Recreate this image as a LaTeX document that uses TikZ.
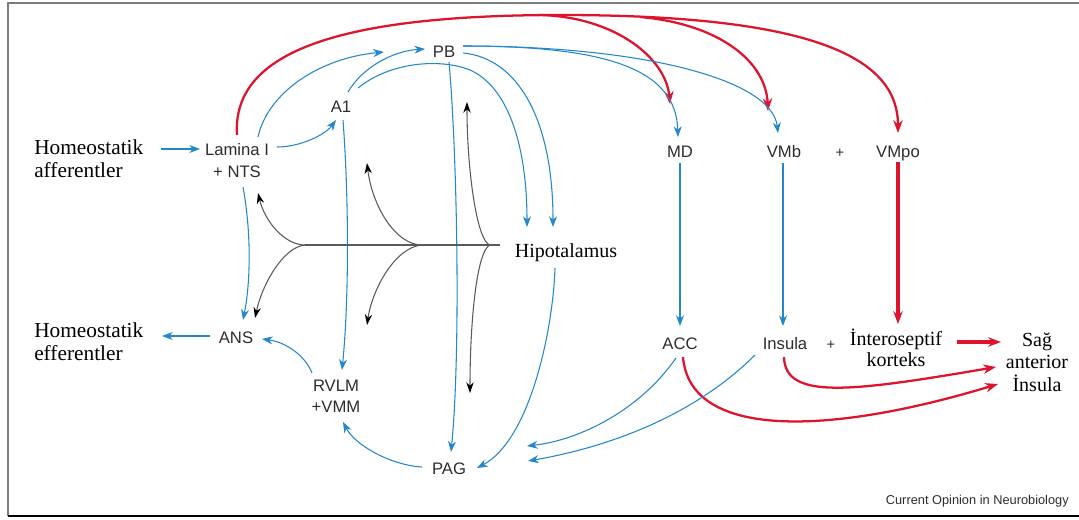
\documentclass[tikz,border=0pt]{standalone}
\usepackage{fontspec}
\setmainfont{Liberation Serif}
\setsansfont{Liberation Sans}
\usetikzlibrary{arrows.meta}
\definecolor{cblue}{RGB}{35,135,205}
\definecolor{cred}{RGB}{222,20,45}
\definecolor{cgray}{RGB}{90,90,90}
\definecolor{ctext}{RGB}{45,45,45}
\definecolor{cframe}{RGB}{125,125,125}
\begin{document}
\begin{tikzpicture}[x=0.75pt,y=-0.75pt,
  lbl/.style={font=\sffamily\fontsize{12.5}{16}\selectfont, text=ctext, inner sep=0pt, align=center},
  ser/.style={font=\fontsize{15}{17}\selectfont, inner sep=0pt, align=center},
  serbig/.style={font=\fontsize{16}{17.3}\selectfont, inner sep=0pt, align=left, anchor=west},
  bl/.style={cblue, line width=0.8pt, -{Stealth[length=8pt,width=6pt,inset=2.5pt]}},
  rd/.style={cred, line width=1.7pt, -{Stealth[length=9.5pt,width=7pt,inset=3pt]}},
  bk/.style={cgray, line width=0.8pt, -{Stealth[length=8pt,width=5.5pt,inset=2.5pt,color=black]}},
  bkline/.style={cgray, line width=1pt},
]
\useasboundingbox (0,0) rectangle (1079,519);
% frame
\draw[cframe, line width=1.5pt] (1079,3) -- (7.5,3) -- (7.5,516);
\draw[black, line width=1.5pt] (7.5,516) -- (1079,516);

% nodes
\node[serbig] (haff) at (34,159) {Homeostatik\\afferentler};
\node[serbig] (heff) at (34,342) {Homeostatik\\efferentler};
\node[lbl, font=\sffamily\fontsize{12.5}{16.5}\selectfont] (lam) at (237,161) {Lamina I\\+ NTS};
\node[lbl, anchor=base] (a1) at (341,112) {A1};
\node[lbl, anchor=base] (pb) at (444,57) {PB};
\node[lbl, anchor=base] (md) at (680,157) {MD};
\node[lbl, anchor=base] (vmb) at (784,157) {VMb};
\node[lbl, anchor=base, font=\sffamily\fontsize{11}{13}\selectfont] (plusA) at (840,157) {+};
\node[lbl, anchor=base] (vmpo) at (898,157) {VMpo};
\node[ser, anchor=base] (hip) at (566,257) {Hipotalamus};
\node[lbl, anchor=base] (ans) at (236,343) {ANS};
\node[lbl, font=\sffamily\fontsize{12.5}{15.75}\selectfont] (rvlm) at (336,396.5) {RVLM\\+VMM};
\node[lbl, anchor=base] (pag) at (449,474) {PAG};
\node[lbl, anchor=base] (acc) at (680,349) {ACC};
\node[lbl, anchor=base] (ins) at (785,349) {Insula};
\node[lbl, anchor=base, font=\sffamily\fontsize{11}{13}\selectfont] (plusB) at (831,349) {+};
\node[ser, font=\fontsize{15}{15.75}\selectfont] (intero) at (896,348) {İnteroseptif\\korteks};
\node[ser, font=\fontsize{15}{16.9}\selectfont] (sag) at (1037,362) {Sağ\\anterior\\İnsula};
\node[font=\sffamily\fontsize{9.6}{11}\selectfont, text=ctext, inner sep=0pt, anchor=base east] (credit) at (1069,504) {Current Opinion in Neurobiology};

% endpoint coordinates
\coordinate (haff-e) at (161,149);
\coordinate (lam-w) at (200,149);
\coordinate (lam-n) at (237,135);
\coordinate (lam-ne) at (258,137);
\coordinate (lam-e) at (277,147);
\coordinate (lam-s) at (243,187);
\coordinate (lam-sa) at (258,193);
\coordinate (a1-sw) at (336,120);
\coordinate (a1-n) at (348,92);
\coordinate (a1-ne) at (358,88);
\coordinate (a1-s) at (343,120);
\coordinate (a1-sb) at (367,163);
\coordinate (pb-w) at (425,49);
\coordinate (pb-ww) at (384,52);
\coordinate (pb-e) at (463,46);
\coordinate (pb-se) at (463,53);
\coordinate (pb-s) at (449,62);
\coordinate (pb-sb) at (467,102);
\coordinate (md-n) at (678,137);
\coordinate (md-nr) at (670,104);
\coordinate (md-s) at (680,163);
\coordinate (vmb-n) at (778,133);
\coordinate (vmb-nr) at (768,111);
\coordinate (vmb-s) at (783,163);
\coordinate (vmpo-n) at (898,133);
\coordinate (vmpo-s) at (898,162);
\coordinate (hip-n1) at (527,227);
\coordinate (hip-n2) at (553,227);
\coordinate (hip-w) at (500,245);
\coordinate (hip-s) at (555,268);
\coordinate (br1) at (305,245);
\coordinate (br2) at (422,245);
\coordinate (br3) at (490,245);
\coordinate (ans-n) at (243,320);
\coordinate (ans-nb) at (255,318);
\coordinate (ans-w) at (210,336);
\coordinate (ans-e) at (262,339);
\coordinate (heff-e) at (162,336);
\coordinate (rvlm-n) at (342,370);
\coordinate (rvlm-nb) at (367,325);
\coordinate (rvlm-nw) at (312,373);
\coordinate (rvlm-s) at (343,422);
\coordinate (pag-nb) at (470,393);
\coordinate (pag-n) at (451,452);
\coordinate (pag-w) at (422,467);
\coordinate (pag-e) at (477,468);
\coordinate (pag-e1) at (527,446);
\coordinate (pag-e2) at (528,461);
\coordinate (acc-n) at (680,326);
\coordinate (acc-s) at (676,358);
\coordinate (acc-sr) at (683,357);
\coordinate (ins-n) at (783,326);
\coordinate (ins-sw) at (755,355);
\coordinate (ins-s) at (784,357);
\coordinate (intero-n) at (898,324);
\coordinate (intero-e) at (957,342);
\coordinate (sag-w) at (1001,342);
\coordinate (sag-w2) at (996,367);
\coordinate (sag-w3) at (998,384);
\coordinate (top) at (560,15);
\coordinate (topA) at (540,15);
\coordinate (topB) at (640,17);

% ---- red pathways
\draw[rd] (lam-n) .. controls (232,55) and (330,15) .. (top)
              .. controls (820,15) and (898,60) .. (vmpo-n);
\draw[rd] (topA) .. controls (615,17) and (666,58) .. (md-nr);
\draw[rd] (topB) .. controls (720,24) and (766,62) .. (vmb-nr);
\draw[rd, line width=2.3pt] (vmpo-s) -- (intero-n);
\draw[rd, line width=2.3pt] (intero-e) -- (sag-w);
\draw[rd] (ins-s) .. controls (785,400) and (850,392) .. (sag-w2);
\draw[rd] (acc-sr) .. controls (690,440) and (830,435) .. (sag-w3);

% ---- blue pathways
\draw[bl] (haff-e) -- (lam-w);
\draw[bl] (lam-e) .. controls (300,147) and (325,135) .. (a1-sw);
\draw[bl] (lam-ne) .. controls (268,92) and (320,58) .. (pb-ww);
\draw[bl] (a1-n) .. controls (362,68) and (392,51) .. (pb-w);
\draw[bl] (a1-ne) .. controls (390,62) and (440,58) .. (470,70)
                  .. controls (510,88) and (527,150) .. (hip-n1);
\draw[bl] (pb-se) .. controls (517,58) and (553,118) .. (hip-n2);
\draw[bl] (pb-e) .. controls (610,46) and (676,70) .. (md-n);
\draw[bl] (pb-e) .. controls (645,46) and (772,80) .. (vmb-n);
\draw[bl] (pb-s) .. controls (457,150) and (461,350) .. (pag-n);
\draw[bl] (a1-s) .. controls (349,200) and (349,300) .. (rvlm-n);
\draw[bl] (lam-s) .. controls (251,230) and (251,280) .. (ans-n);
\draw[bl] (ans-w) -- (heff-e);
\draw[bl] (rvlm-nw) .. controls (305,355) and (285,342) .. (ans-e);
\draw[bl] (pag-w) .. controls (390,465) and (355,445) .. (rvlm-s);
\draw[bl] (hip-s) .. controls (553,330) and (530,440) .. (pag-e);
\draw[bl] (md-s) -- (acc-n);
\draw[bl] (vmb-s) -- (ins-n);
\draw[bl] (acc-s) .. controls (640,410) and (580,440) .. (pag-e1);
\draw[bl] (ins-sw) .. controls (700,410) and (620,445) .. (pag-e2);

% ---- hypothalamic fan (black)
\draw[bkline] (hip-w) -- (br1);
\draw[bk] (br1) .. controls (285,245) and (265,222) .. (lam-sa);
\draw[bk] (br1) .. controls (283,247) and (262,285) .. (ans-nb);
\draw[bk] (br2) .. controls (395,245) and (372,205) .. (a1-sb);
\draw[bk] (br2) .. controls (395,247) and (372,290) .. (rvlm-nb);
\draw[bk] (br3) .. controls (477,242) and (467,170) .. (pb-sb);
\draw[bk] (br3) .. controls (477,250) and (470,320) .. (pag-nb);
\end{tikzpicture}
\end{document}
